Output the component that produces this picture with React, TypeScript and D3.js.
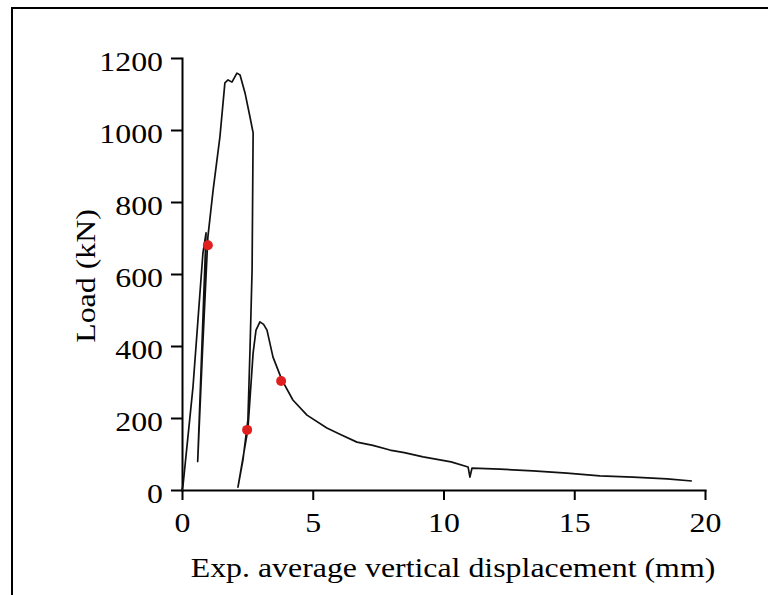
import React, { useRef, useEffect } from 'react';
import * as d3 from 'd3';

const dispMm = [
  0, 0.04, 0.42, 0.61, 0.80, 0.92, 0.60, 0.78, 0.99, 1.19, 1.45, 1.64, 1.76, 1.91,
  2.10, 2.22, 2.41, 2.60, 2.72, 2.68, 2.60, 2.52, 2.33, 2.14, 2.52, 2.72, 2.83,
  2.98, 3.12, 3.25, 3.48, 3.82, 4.24, 4.78, 5.54, 6.10, 6.69, 7.30, 7.95, 8.50,
  9.22, 10.29, 10.94, 11.01, 11.09, 12.16, 13.42, 14.72, 15.98, 17.25, 18.55, 19.50,
];
const loadKn = [
  0, 14, 286, 472, 658, 714, 79, 380, 703, 833, 981, 1131, 1139, 1133,
  1158, 1153, 1103, 1036, 992, 611, 389, 194, 83, 8, 169, 381, 444,
  467, 460, 444, 369, 306, 250, 208, 172, 153, 133, 124, 111, 104,
  92, 78, 64, 36, 61, 58, 53, 47, 39, 36, 31, 25,
];

// red marker points
const markerDisp = [0.99, 2.49, 3.79];
const markerLoad = [680, 167, 303];

const xTicks = [0, 5, 10, 15, 20];
const yTicks = [0, 200, 400, 600, 800, 1000, 1200];

export default function App() {
  const svgRef = useRef<SVGSVGElement>(null);

  useEffect(() => {
    const width = 768;
    const height = 595;
    const marginLeft = 182;
    const marginRight = 63;
    const marginTop = 58;
    const marginBottom = 105;
    const font = '"Liberation Serif", "Times New Roman", serif';
    const stretch = 1.18; // the source figure's type is a bit wider than Liberation Serif

    const x = d3.scaleLinear().domain([0, 20]).range([marginLeft, width - marginRight]);
    const y = d3.scaleLinear().domain([0, 1200]).range([height - marginBottom, marginTop]);

    const svg = d3.select(svgRef.current)
      .attr('width', width)
      .attr('height', height)
      .attr('viewBox', [0, 0, width, height].join(' '));
    svg.selectAll('*').remove();

    svg.append('rect')
      .attr('width', width).attr('height', height).attr('fill', 'white');

    // frame of the figure (only top and left edges are inside the crop)
    svg.append('path')
      .attr('d', `M12,${height + 5} L12,8 L${width + 5},8`)
      .attr('fill', 'none')
      .attr('stroke', 'black')
      .attr('stroke-width', 2);

    // y axis
    svg.append('g')
      .attr('transform', `translate(${marginLeft},0)`)
      .call(d3.axisLeft(y).tickValues(yTicks).tickFormat(d3.format('d'))
        .tickSize(11).tickSizeOuter(0).tickPadding(8))
      .call(g => g.selectAll('path, line').attr('stroke-width', 2))
      .call(g => g.selectAll('text')
        .attr('font-family', font).attr('font-size', 27).attr('dy', '0.45em'));

    // x axis
    svg.append('g')
      .attr('transform', `translate(0,${height - marginBottom})`)
      .call(d3.axisBottom(x).tickValues(xTicks).tickSize(10).tickSizeOuter(0).tickPadding(13))
      .call(g => g.selectAll('path, line').attr('stroke-width', 2))
      .call(g => g.selectAll('text')
        .attr('font-family', font).attr('font-size', 27));

    svg.selectAll('.domain').attr('stroke-linecap', 'square');

    // axis titles
    svg.append('text')
      .attr('x', 453)
      .attr('y', 577)
      .attr('text-anchor', 'middle')
      .attr('font-family', font)
      .attr('font-size', 27)
      .text('Exp. average vertical displacement (mm)');

    svg.append('text')
      .attr('transform', 'translate(95,276) rotate(-90)')
      .attr('text-anchor', 'middle')
      .attr('font-family', font)
      .attr('font-size', 27)
      .text('Load (kN)');

    // widen every label along its own direction
    svg.selectAll<SVGTextElement, unknown>('text').each(function () {
      const w = this.getComputedTextLength();
      d3.select(this)
        .attr('textLength', w * stretch)
        .attr('lengthAdjust', 'spacingAndGlyphs');
    });

    const line = d3.line<number>()
      .x(i => x(dispMm[i]))
      .y(i => y(loadKn[i]));

    svg.append('path')
      .attr('d', line(d3.range(dispMm.length)))
      .attr('fill', 'none')
      .attr('stroke', '#111')
      .attr('stroke-width', 1.7)
      .attr('stroke-linejoin', 'round');

    svg.append('g')
      .selectAll('circle')
      .data(d3.range(markerDisp.length))
      .join('circle')
      .attr('cx', i => x(markerDisp[i]))
      .attr('cy', i => y(markerLoad[i]))
      .attr('r', 5)
      .attr('fill', '#e0201e');
  }, []);

  return (
    <div style={{ position: 'absolute', left: 0, top: 0 }}>
      <svg ref={svgRef} style={{ display: 'block' }}></svg>
    </div>
  );
}
